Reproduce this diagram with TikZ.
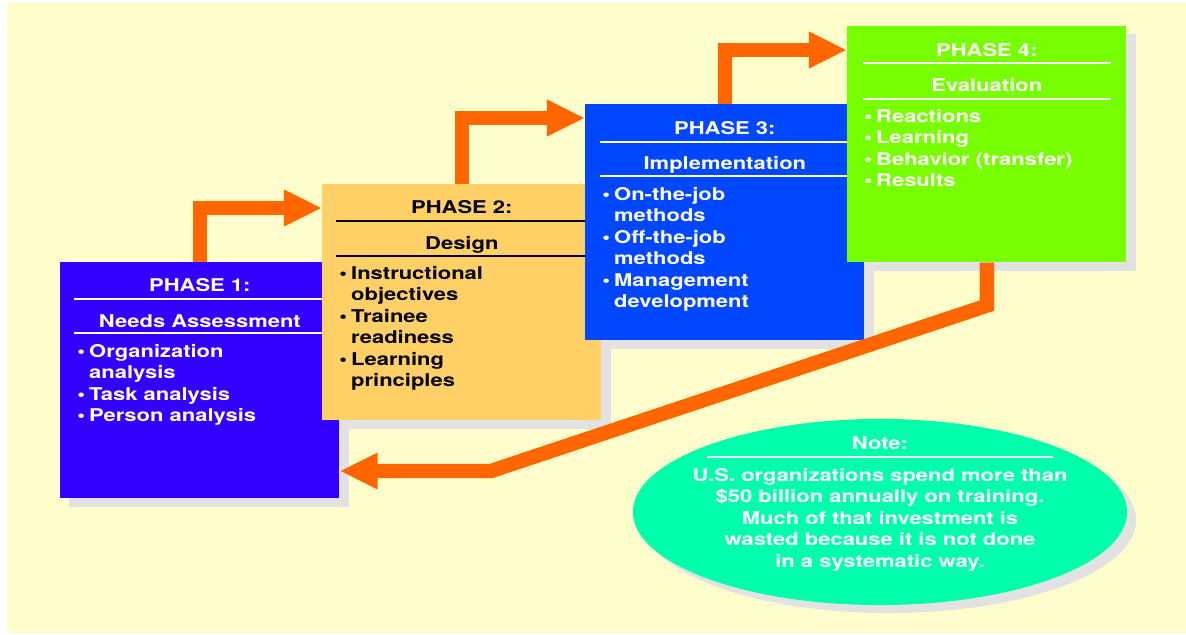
\documentclass[tikz,border=0pt]{standalone}
\usepackage{fontspec}
\setmainfont{TeX Gyre Heros}[FakeStretch=1.25]
\usetikzlibrary{arrows.meta, shapes.geometric, positioning, calc, backgrounds}
\definecolor{paper}{HTML}{FFFDCC}
\definecolor{phaseone}{HTML}{3300FF}
\definecolor{phasetwo}{HTML}{FFD066}
\definecolor{phasethree}{HTML}{0047FF}
\definecolor{phasefour}{HTML}{77FF00}
\definecolor{notegreen}{HTML}{00FFAA}
\definecolor{flowcolor}{HTML}{FF6600}
\definecolor{shadowgray}{HTML}{E2E2E2}
\newcommand{\phasefont}{\fontsize{12.5pt}{15.3pt}\selectfont\bfseries}
\tikzset{%
  >={Triangle[length=0.95cm, width=0.85cm]},
  % Specifications for style of nodes:
        phase/.style = {rectangle, anchor=north west, inner sep=0pt,
                           minimum width=6.975cm, minimum height=5.9cm},
        heading/.style = {anchor=base, inner sep=0pt, font=\phasefont},
        items/.style = {anchor=base west, inner sep=0pt, font=\phasefont},
        note/.style = {ellipse, inner sep=0pt, minimum width=12.35cm,
                           minimum height=4.65cm},
        rule/.style = {line width=1pt},
        flow/.style = {draw=flowcolor, line width=0.36cm, line join=miter, ->},
        shadowbox/.style = {fill=shadowgray}
}
\newcommand{\needsitems}{
    \begin{tabular}[t]{@{}l@{\hspace{3pt}}l@{}}
        \textbullet & Organization\\
                    & analysis\\
        \textbullet & Task analysis\\
        \textbullet & Person analysis
    \end{tabular}
}
\newcommand{\designitems}{
    \begin{tabular}[t]{@{}l@{\hspace{3pt}}l@{}}
        \textbullet & Instructional\\
                    & objectives\\
        \textbullet & Trainee\\
                    & readiness\\
        \textbullet & Learning\\
                    & principles
    \end{tabular}
}
\newcommand{\implitems}{
    \begin{tabular}[t]{@{}l@{\hspace{3pt}}l@{}}
        \textbullet & On-the-job\\
                    & methods\\
        \textbullet & Off-the-job\\
                    & methods\\
        \textbullet & Management\\
                    & development
    \end{tabular}
}
\newcommand{\evalitems}{
    \begin{tabular}[t]{@{}l@{\hspace{3pt}}l@{}}
        \textbullet & Reactions\\
        \textbullet & Learning\\
        \textbullet & Behavior (transfer)\\
        \textbullet & Results
    \end{tabular}
}
\newcommand{\notetext}{
    \begin{tabular}[t]{@{}c@{}}
        U.S. organizations spend more than\\
        \$50 billion annually on training.\\
        Much of that investment is\\
        wasted because it is not done\\
        in a systematic way.
    \end{tabular}
}

\begin{document}
\begin{tikzpicture}[x=0.025cm, y=-0.025cm]
  \useasboundingbox (0,0) rectangle (1186,634);
  % Specification of nodes (position, etc.)
    \node (p1)        [phase, fill=phaseone] at (60,262) {};
    \node (p1title)   [heading, text=white] at ($(p1.north)+(0,29)$) {PHASE 1:};
    \draw[rule, white] ($(p1.north west)+(14,37)$) -- ($(p1.north east)+(-14,37)$);
    \node (p1sub)     [heading, text=white] at ($(p1.north)+(0,65)$) {Needs Assessment};
    \draw[rule, white] ($(p1.north west)+(14,71)$) -- ($(p1.north east)+(-14,71)$);
    \node (p1list)    [items, text=white] at ($(p1.north west)+(17,95)$) {\needsitems};

    \node (p2)        [phase, fill=phasetwo] at (322,184) {};
    \node (p2title)   [heading] at ($(p2.north)+(0,29)$) {PHASE 2:};
    \draw[rule] ($(p2.north west)+(14,37)$) -- ($(p2.north east)+(-14,37)$);
    \node (p2sub)     [heading] at ($(p2.north)+(0,65)$) {Design};
    \draw[rule] ($(p2.north west)+(14,72)$) -- ($(p2.north east)+(-14,72)$);
    \node (p2list)    [items] at ($(p2.north west)+(17,95)$) {\designitems};

    \node (p3)        [phase, fill=phasethree] at (585,104) {};
    \node (p3title)   [heading, text=white] at ($(p3.north)+(0,30)$) {PHASE 3:};
    \draw[rule, white] ($(p3.north west)+(15,38)$) -- ($(p3.north east)+(-15,38)$);
    \node (p3sub)     [heading, text=white] at ($(p3.north)+(0,65)$) {Implementation};
    \draw[rule, white] ($(p3.north west)+(15,72)$) -- ($(p3.north east)+(-15,72)$);
    \node (p3list)    [items, text=white] at ($(p3.north west)+(17,96)$) {\implitems};

    \node (p4)        [phase, fill=phasefour] at (847,26) {};
    \node (p4title)   [heading, text=white] at ($(p4.north)+(0,30)$) {PHASE 4:};
    \draw[rule, white] ($(p4.north west)+(16,37)$) -- ($(p4.north east)+(-16,37)$);
    \node (p4sub)     [heading, text=white] at ($(p4.north)+(0,65)$) {Evaluation};
    \draw[rule, white] ($(p4.north west)+(16,73)$) -- ($(p4.north east)+(-16,73)$);
    \node (p4list)    [items, text=white] at ($(p4.north west)+(17,96)$) {\evalitems};

    \node (note)      [note, fill=notegreen] at (880,512) {};
    \node (notehead)  [heading, text=white] at ($(note.center)+(0,-63)$) {Note:};
    \draw[rule, white] ($(note.center)+(-173,-55)$) -- ($(note.center)+(173,-55)$);
    \node (notebody)  [heading, text=white] at ($(note.center)+(0,-31)$) {\notetext};

  % Specification of arrows between the phases
    \coordinate (in2)  at ($(p2.north west)+(0,24)$);
    \coordinate (in3)  at ($(p3.north west)+(0,14)$);
    \coordinate (in4)  at ($(p4.north west)+(0,24)$);
    \coordinate (knee) at ($(p4.south)+(0,43)$);
    \coordinate (bend) at (491,471);
  \draw[flow]     (p1.north) |- (in2);
  \draw[flow]     (p2.north) |- (in3);
  \draw[flow]     (p3.north) |- (in4);
  \draw[flow]     (p4.south) -- (knee) -- (bend) -- (p1.east |- bend);

  % paper and shadows behind everything
  \begin{scope}[on background layer]
    \fill[paper] (7,3) rectangle (1186,633);
    \fill[shadowbox] ([shift={(9,8)}]p1.north west) rectangle ([shift={(9,8)}]p1.south east);
    \fill[shadowbox] ([shift={(9,8)}]p2.north west) rectangle ([shift={(9,8)}]p2.south east);
    \fill[shadowbox] ([shift={(9,8)}]p3.north west) rectangle ([shift={(9,8)}]p3.south east);
    \fill[shadowbox] ([shift={(9,8)}]p4.north west) rectangle ([shift={(9,8)}]p4.south east);
    \node[note, shadowbox] at ([shift={(9,8)}]note.center) {};
  \end{scope}
\end{tikzpicture}
\end{document}
